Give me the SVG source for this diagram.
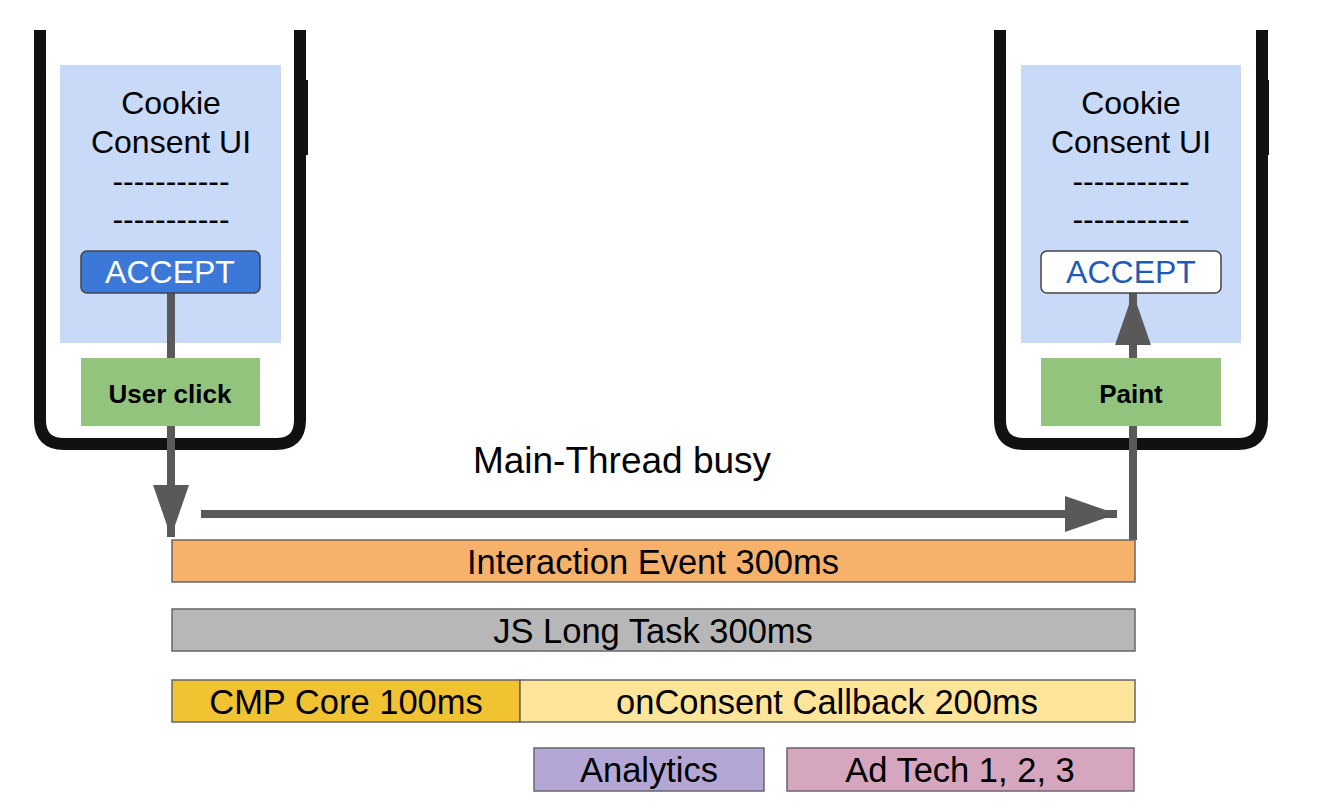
<svg xmlns="http://www.w3.org/2000/svg" width="1318" height="810" viewBox="0 0 1318 810">
<style>
text{font-family:"Liberation Sans",Arial,sans-serif;text-anchor:middle}
.t{font-size:32px;fill:#000}
.m{font-size:34.5px;fill:#000}
.b{font-size:26px;font-weight:bold}
.bar{stroke:#666;stroke-width:1.5}
.frame{fill:#fff;stroke:#111;stroke-width:12}
.panel{fill:#c9daf8}
.ln{stroke:#595959;stroke-width:8;fill:none}
</style>
<defs>
<marker id="ah" markerUnits="userSpaceOnUse" markerWidth="54" markerHeight="40" refX="52" refY="20" orient="auto"><path d="M0,2 L52,20 L0,38 Z" fill="#595959"/></marker>
</defs>
<rect width="1318" height="810" fill="#fff"/>
<g id="phone-left">
<path class="frame" d="M40,30 V420 Q40,444 64,444 H276 Q300,444 300,420 V30"/>
<rect x="302" y="80" width="6" height="75" fill="#111"/>
<rect class="panel" x="60" y="65" width="221" height="278"/>
<text class="t" x="171" y="114">Cookie</text>
<text class="t" x="171" y="153">Consent UI</text>
<text class="t" x="171" y="192">-----------</text>
<text class="t" x="171" y="230">-----------</text>
</g>
<g id="phone-right">
<path class="frame" d="M1000,30 V420 Q1000,444 1024,444 H1238 Q1262,444 1262,420 V30"/>
<rect x="1263" y="80" width="6" height="75" fill="#111"/>
<rect class="panel" x="1021" y="65" width="220" height="278"/>
<text class="t" x="1131" y="114">Cookie</text>
<text class="t" x="1131" y="153">Consent UI</text>
<text class="t" x="1131" y="192">-----------</text>
<text class="t" x="1131" y="230">-----------</text>
</g>
<g id="connectors">
<path class="ln" d="M171,293 V537" marker-end="url(#ah)"/>
<path class="ln" d="M201,514 H1117" marker-end="url(#ah)"/>
<path class="ln" d="M1133,540 V293" marker-end="url(#ah)"/>
</g>
<g id="accept-left"><rect x="81" y="251" width="179" height="42" rx="6" fill="#3c78d8" stroke="#444" stroke-width="1.5"/><text class="t" x="170" y="283" style="fill:#fff">ACCEPT</text></g>
<g id="user-click"><rect x="81" y="358" width="179" height="68" fill="#93c47d"/><text class="b" x="170" y="403">User click</text></g>
<g id="accept-right"><rect x="1041" y="251" width="180" height="42" rx="6" fill="#fff" stroke="#444" stroke-width="1.5"/><text class="t" x="1131" y="283" style="fill:#1f5bb5">ACCEPT</text></g>
<g id="paint"><rect x="1041" y="358" width="180" height="68" fill="#93c47d"/><text class="b" x="1131" y="403">Paint</text></g>
<g id="label"><text class="t" x="622" y="473" style="font-size:37px">Main-Thread busy</text></g>
<g id="interaction"><rect class="bar" x="172" y="540" width="963" height="42" fill="#f6b26b"/><text class="m" x="653" y="574">Interaction Event 300ms</text></g>
<g id="longtask"><rect class="bar" x="172" y="609" width="963" height="42" fill="#b7b7b7"/><text class="m" x="653" y="643">JS Long Task 300ms</text></g>
<g id="cmp"><rect class="bar" x="172" y="680" width="348" height="42" fill="#f1c232"/><text class="m" x="346" y="714">CMP Core 100ms</text></g>
<g id="oncons"><rect class="bar" x="520" y="680" width="615" height="42" fill="#ffe599"/><text class="m" x="827" y="714">onConsent Callback 200ms</text></g>
<g id="analytics"><rect class="bar" x="534" y="748" width="230" height="43" fill="#b4a7d6"/><text class="m" x="649" y="782">Analytics</text></g>
<g id="adtech"><rect class="bar" x="787" y="748" width="347" height="43" fill="#d5a6bd"/><text class="m" x="960" y="782">Ad Tech 1, 2, 3</text></g>
</svg>
